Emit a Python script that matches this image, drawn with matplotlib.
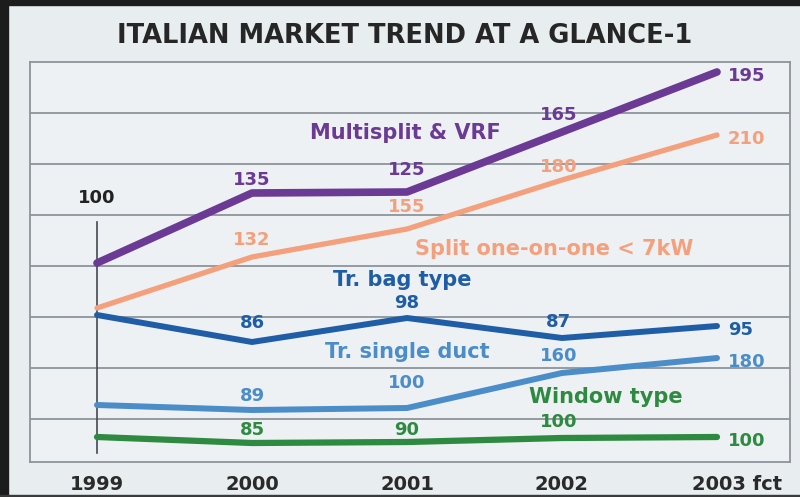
import matplotlib.pyplot as plt
from matplotlib.patches import Rectangle

plt.rcParams['font.family'] = ['DejaVu Sans']
plt.rcParams['font.weight'] = 'bold'

years = ['1999', '2000', '2001', '2002', '2003 fct']
x = [0, 1, 2, 3, 4]

# vertical position of each line as drawn (chart units)
multi_pos = [199, 269, 270, 330, 390]
split_pos = [154, 205, 233, 282, 327]
bag_pos = [147, 120, 144, 124, 136]
single_pos = [57, 52, 54, 89, 104]
window_pos = [25, 19, 20, 24, 25]

# index values printed on the chart (1999 = 100 for every series)
multi_vals = [100, 135, 125, 165, 195]
split_vals = [100, 132, 155, 180, 210]
bag_vals = [100, 86, 98, 87, 95]
single_vals = [100, 89, 100, 160, 180]
window_vals = [100, 85, 90, 100, 100]

names = ['Multisplit & VRF', 'Split one-on-one < 7kW', 'Tr. bag type',
         'Tr. single duct', 'Window type']

c_purple = '#6b3a95'
c_orange = '#f4a07c'
c_dblue = '#1f5ea6'
c_lblue = '#4b8dc9'
c_green = '#2e8a40'
bg = '#e8edf0'

fig = plt.figure(figsize=(8, 4.97), dpi=100, facecolor=bg)
ax = fig.add_axes([30 / 800, 35 / 497, 760 / 800, 400 / 497])
ax.set_facecolor('#edf1f3')
ax.set_xlim((30 - 97) / 155, (790 - 97) / 155)
ax.set_ylim(0, 400)

# grid rows
ax.set_yticks([43, 94, 145, 196, 247, 298, 349])
ax.yaxis.grid(True, color='#8d949a', linewidth=1.3)
ax.tick_params(left=False, labelleft=False, bottom=False, labelbottom=False)
for s in ax.spines.values():
    s.set_color('#8d949a')
    s.set_linewidth(1.3)
ax.set_axisbelow(True)

# the 1999 base line
ax.axvline(0, ymin=9 / 400, ymax=240 / 400, color='#444a50', lw=1.2)

series = [
    (multi_pos, multi_vals, c_purple, 5.5, [None, 13, 22, 17]),
    (split_pos, split_vals, c_orange, 3.8, [None, 17, 22, 13]),
    (bag_pos, bag_vals, c_dblue, 4.3, [None, 19, 15, 16]),
    (single_pos, single_vals, c_lblue, 4.3, [None, 14, 25, 17]),
    (window_pos, window_vals, c_green, 4.5, [None, 13, 12, 16]),
]
label_dx = [0, 0, 0, -0.02]

for pos, vals, col, lw, dys in series:
    ax.plot(x, pos, color=col, lw=lw, solid_capstyle='round',
            solid_joinstyle='round')
    for i in range(1, 4):
        ax.text(x[i] + label_dx[i], pos[i] + dys[i], str(vals[i]), color=col,
                fontsize=13, ha='center', va='center')
    ax.text(x[4] + 11 / 155, pos[4] - 4, str(vals[4]), color=col,
            fontsize=13, ha='left', va='center')

# common base value
ax.text(0, 264, '100', color='#222222', fontsize=13, ha='center', va='center')

# series names
name_pos = [(1.99, 329), (2.95, 213), (1.97, 182), (2.0, 110), (3.28, 65)]
name_cols = [c_purple, c_orange, c_dblue, c_lblue, c_green]
for nm, (nx, ny), col in zip(names, name_pos, name_cols):
    ax.text(nx, ny, nm, color=col, fontsize=15, ha='center', va='center')

# year labels
for i, yr in enumerate(years):
    if i == 4:
        ax.text(x[i] - 25 / 155, -22, yr, color='#2a2a2a', fontsize=14,
                ha='left', va='center', clip_on=False)
    else:
        ax.text(x[i], -22, yr, color='#2a2a2a', fontsize=14,
                ha='center', va='center', clip_on=False)

fig.text(405 / 800, 1 - 36 / 497, 'ITALIAN MARKET TREND AT A GLANCE-1',
         fontsize=18.5, color='#262626', ha='center', va='center')

# dark scan frame
fig.patches.append(Rectangle((0, 0), 8 / 800, 1, transform=fig.transFigure,
                             color='#1c1c1c', zorder=10))
fig.patches.append(Rectangle((0, 1 - 5 / 497), 1, 5 / 497,
                             transform=fig.transFigure, color='#1c1c1c', zorder=10))
fig.patches.append(Rectangle((0, 0), 1, 2 / 497, transform=fig.transFigure,
                             color='#3a3a3a', zorder=10))

fig.savefig('out.png', dpi=100, facecolor=bg)
